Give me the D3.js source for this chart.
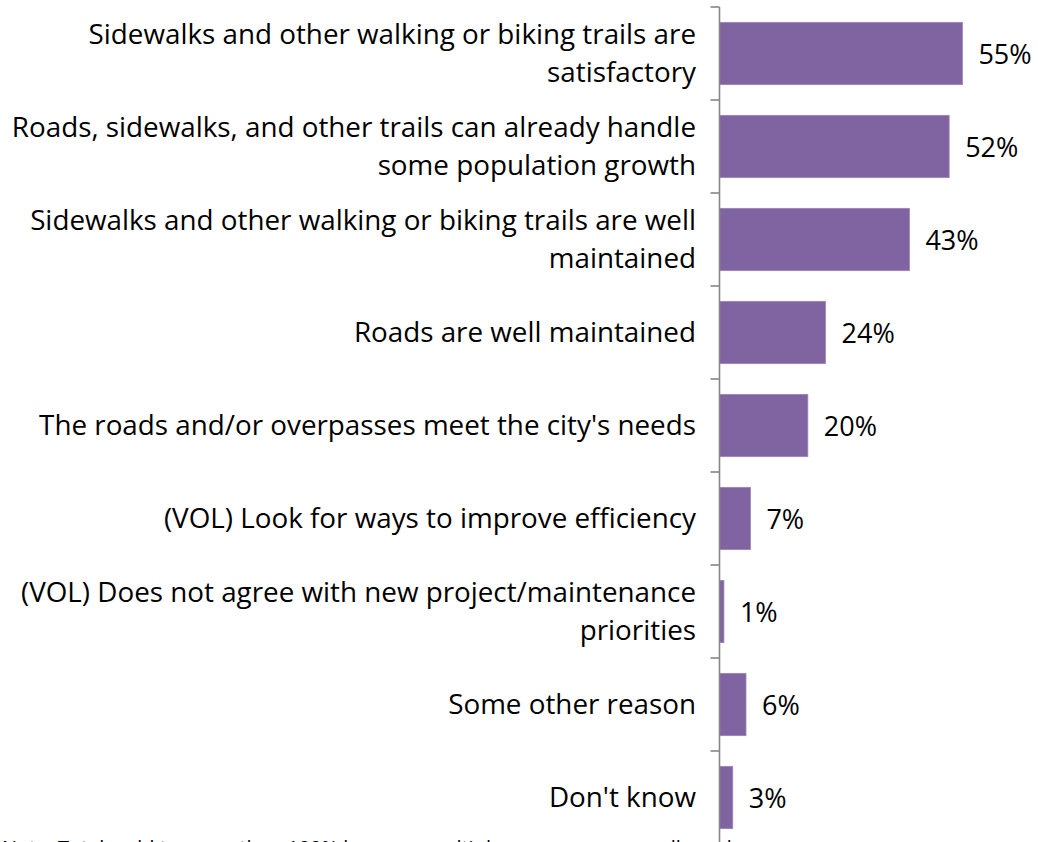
<!DOCTYPE html>
<html>
<head>
<meta charset="utf-8">
<script src="https://cdn.jsdelivr.net/npm/d3@7"></script>
<style>
  html, body { margin: 0; padding: 0; background: #fff; }
  svg { display: block; }
  text { font-family: "Open Sans", "Lato", sans-serif; fill: #000; }
</style>
</head>
<body>
<svg id="chart" width="1038" height="842"></svg>
<script>
// Reasons given (each category label split into its display lines)
const categories = [
  ["Sidewalks and other walking or biking trails are", "satisfactory"],
  ["Roads, sidewalks, and other trails can already handle", "some population growth"],
  ["Sidewalks and other walking or biking trails are well", "maintained"],
  ["Roads are well maintained"],
  ["The roads and/or overpasses meet the city's needs"],
  ["(VOL) Look for ways to improve efficiency"],
  ["(VOL) Does not agree with new project/maintenance", "priorities"],
  ["Some other reason"],
  ["Don't know"]
];
// Share of respondents, percent
const values = [55, 52, 43, 24, 20, 7, 1, 6, 3];
const valueLabels = ["55%", "52%", "43%", "24%", "20%", "7%", "1%", "6%", "3%"];
const footnote = "Note: Totals add to more than 100% because multiple responses were allowed";

const svg = d3.select("#chart");
const axisX = 719.5;
const plotTop = 7, rowH = 93;

const y = d3.scaleBand()
  .domain(d3.range(categories.length))
  .range([plotTop, plotTop + rowH * categories.length])
  .paddingInner(0.33).paddingOuter(0.165);

const x = d3.scaleLinear().domain([0, 60]).range([axisX, axisX + 265]);

const barColor = "#8064A2";

// bars
svg.append("g").selectAll("rect")
  .data(values)
  .join("rect")
  .attr("x", x(0))
  .attr("y", (d, i) => y(i))
  .attr("width", d => x(d) - x(0))
  .attr("height", y.bandwidth())
  .attr("fill", barColor)
  .attr("stroke", "#9a86b8")
  .attr("stroke-width", 0.8);

// value labels
svg.append("g").selectAll("text")
  .data(values)
  .join("text")
  .attr("x", d => x(d) + 16)
  .attr("y", (d, i) => y(i) + y.bandwidth() / 2 + 10)
  .attr("font-size", 27)
  .text((d, i) => valueLabels[i]);

// category axis: vertical line with tick marks at band boundaries
const axisG = svg.append("g").attr("stroke", "#868686").attr("stroke-width", 1.6);
axisG.append("line")
  .attr("x1", axisX).attr("x2", axisX)
  .attr("y1", plotTop).attr("y2", plotTop + rowH * categories.length);
axisG.selectAll("line.tick")
  .data(d3.range(categories.length + 1))
  .join("line")
  .attr("class", "tick")
  .attr("x1", axisX - 9).attr("x2", axisX)
  .attr("y1", i => plotTop + i * rowH).attr("y2", i => plotTop + i * rowH);

// category labels, right aligned left of the axis
const lineH = 38.5;
const labelG = svg.append("g");
categories.forEach((lines, i) => {
  const cy = plotTop + i * rowH + rowH / 2;
  const t = labelG.append("text")
    .attr("text-anchor", "end")
    .attr("font-size", 27.8);
  lines.forEach((ln, k) => {
    t.append("tspan")
      .attr("x", 696)
      .attr("y", cy + 9.5 + (k - (lines.length - 1) / 2) * lineH)
      .text(ln);
  });
});

// footnote, mostly below the visible area
svg.append("text")
  .attr("x", 2)
  .attr("y", 855)
  .attr("font-size", 20)
  .text(footnote);
</script>
</body>
</html>
